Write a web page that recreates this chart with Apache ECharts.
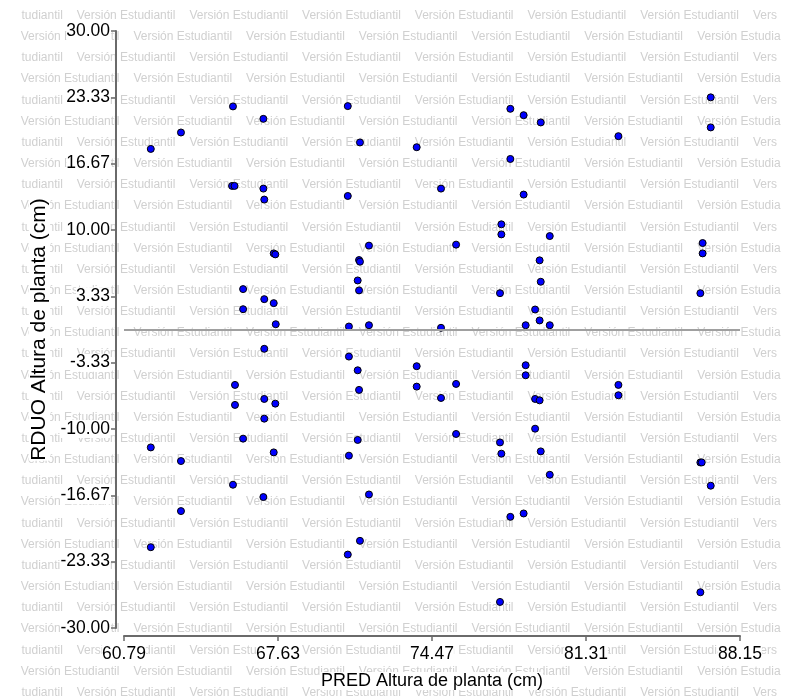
<!DOCTYPE html>
<html>
<head>
<meta charset="utf-8">
<script src="https://cdn.jsdelivr.net/npm/echarts@6/dist/echarts.min.js"></script>
<style>
html,body{margin:0;padding:0;background:#fff;}
#chart{width:788px;height:699px;}
</style>
</head>
<body>
<div id="chart"></div>
<script>
// PRED Altura de planta (cm)
const predAltura = [
  61.98, 63.32, 65.63, 66.98, 70.73, 71.27, 73.79, 77.95, 78.54, 79.30,
  82.75, 86.85, 86.85, 77.95, 65.59, 65.70, 66.98, 67.02, 70.73, 74.87,
  78.54, 77.55, 77.55, 79.70, 75.54, 86.49, 86.49, 67.44, 67.51, 71.67,
  71.23, 71.27, 79.25, 71.17, 71.23, 66.08, 67.02, 67.44, 66.08, 79.30,
  77.49, 86.39, 79.05, 67.53, 70.78, 71.67, 74.87, 79.25, 78.63, 79.70,
  67.02, 70.78, 71.17, 73.79, 78.63, 65.72, 71.23, 73.79, 75.54, 78.63,
  82.75, 65.72, 67.02, 67.51, 74.87, 79.05, 79.25, 82.75, 67.02, 66.08,
  71.17, 79.05, 75.54, 77.49, 61.98, 67.44, 70.78, 77.55, 79.30, 63.32,
  86.39, 86.45, 79.70, 86.85, 65.63, 66.98, 71.67, 63.32, 77.95, 78.54,
  61.98, 70.73, 71.27, 77.49, 86.39
];
// RDUO Altura de planta (cm)
const rduoAltura = [
  18.15, 19.80, 22.42, 21.17, 22.45, 18.80, 18.32, 22.18, 21.54, 20.81,
  19.43, 23.33, 20.31, 17.14, 14.43, 14.43, 14.16, 13.06, 13.42, 14.16,
  13.56, 10.57, 9.56, 9.39, 8.53, 8.69, 7.65, 7.65, 7.55, 8.43,
  6.98, 6.82, 6.95, 4.93, 3.93, 4.06, 3.05, 2.65, 2.04, 4.80,
  3.65, 3.65, 2.01, 0.53, 0.30, 0.43, 0.17, 0.91, 0.43, 0.43,
  -1.94, -2.72, -4.10, -3.69, -3.59, -5.57, -6.07, -5.74, -5.47, -4.60,
  -5.57, -7.58, -6.98, -7.45, -6.88, -6.98, -7.12, -6.61, -8.96, -10.97,
  -11.10, -9.97, -10.50, -11.35, -11.85, -12.35, -12.68, -12.48, -12.25, -13.22,
  -13.36, -13.36, -14.60, -15.70, -15.60, -16.84, -16.58, -18.25, -18.83, -18.49,
  -21.88, -22.62, -21.24, -27.38, -26.41
];
const xTickValues = [60.79, 67.63, 74.47, 81.31, 88.15];
const yTickValues = [-30.00, -23.33, -16.67, -10.00, -3.33, 3.33, 10.00, 16.67, 23.33, 30.00];
const xTitle = 'PRED Altura de planta (cm)';
const yTitle = 'RDUO Altura de planta (cm)';
const watermarkText = 'Versión Estudiantil';

const labelFont = "'Liberation Sans', Arial, sans-serif";

const points = predAltura.map((x, i) => [x, rduoAltura[i]]);

// background watermark (clipped to the band 20..777 like the reference)
const wm = [];
function wmText(text, x, y) {
  wm.push({
    type: 'text', z: -100, silent: true, x: x, y: y,
    style: { text: text, fill: '#d0d0d0', font: "12px 'Liberation Sans'",
      verticalAlign: 'middle', align: 'left' }
  });
}
for (let k = 0; k < 34; k++) {
  const y = 15.7 + 21.15 * k;
  if (k % 2 === 0) {
    wmText('tudiantil', 21.5, y);
    for (let x = 76.7; x < 740; x += 112.7) wmText(watermarkText, x, y);
    wmText('Vers', 753, y);
  } else {
    for (let x = 20.7; x < 690; x += 112.7) wmText(watermarkText, x, y);
    wmText('Versión Estudia', 697.2, y);
  }
}

const chart = echarts.init(document.getElementById('chart'), null, {renderer: 'canvas'});
const axisColor = '#6a6a6a';
chart.setOption({
  animation: false,
  backgroundColor: '#ffffff',
  graphic: { elements: wm },
  grid: { left: 124, right: 48, top: 31, bottom: 71 },
  xAxis: {
    type: 'value', min: 60.79, max: 88.15, offset: 8,
    name: xTitle, nameLocation: 'middle', nameGap: 36, nameMoveOverlap: false,
    nameTextStyle: { fontFamily: labelFont, fontSize: 18, color: '#000', backgroundColor: '#fff' },
    axisLine: { show: true, onZero: false, lineStyle: { color: axisColor, width: 2 } },
    axisTick: { show: true, length: 5, customValues: xTickValues, lineStyle: { color: axisColor, width: 1.5 } },
    axisLabel: { customValues: xTickValues, margin: 9, fontFamily: labelFont, fontSize: 17.5, color: '#000',
      backgroundColor: '#fff', formatter: v => Number(v).toFixed(2) },
    splitLine: { show: false }
  },
  yAxis: {
    type: 'value', min: -30, max: 30, offset: 8,
    name: yTitle, nameLocation: 'middle', nameGap: 66, nameRotate: 90, nameMoveOverlap: false,
    nameTextStyle: { fontFamily: labelFont, fontSize: 21, color: '#000', backgroundColor: '#fff' },
    axisLine: { show: true, onZero: false, lineStyle: { color: axisColor, width: 2 } },
    axisTick: { show: true, length: 5, customValues: yTickValues, lineStyle: { color: axisColor, width: 1.5 } },
    axisLabel: { customValues: yTickValues, margin: 6, fontFamily: labelFont, fontSize: 17.5, color: '#000',
      backgroundColor: '#fff', formatter: v => Number(v).toFixed(2) },
    splitLine: { show: false }
  },
  series: [{
    type: 'scatter',
    data: points,
    symbol: 'circle',
    symbolSize: 7,
    itemStyle: { color: '#0000ff', borderColor: '#000000', borderWidth: 1, opacity: 1 },
    emphasis: { disabled: true },
    markLine: {
      silent: true, symbol: 'none', label: { show: false },
      lineStyle: { color: '#a0a0a0', width: 2, type: 'solid' },
      data: [{ yAxis: 0 }]
    }
  }]
});
</script>
</body>
</html>
